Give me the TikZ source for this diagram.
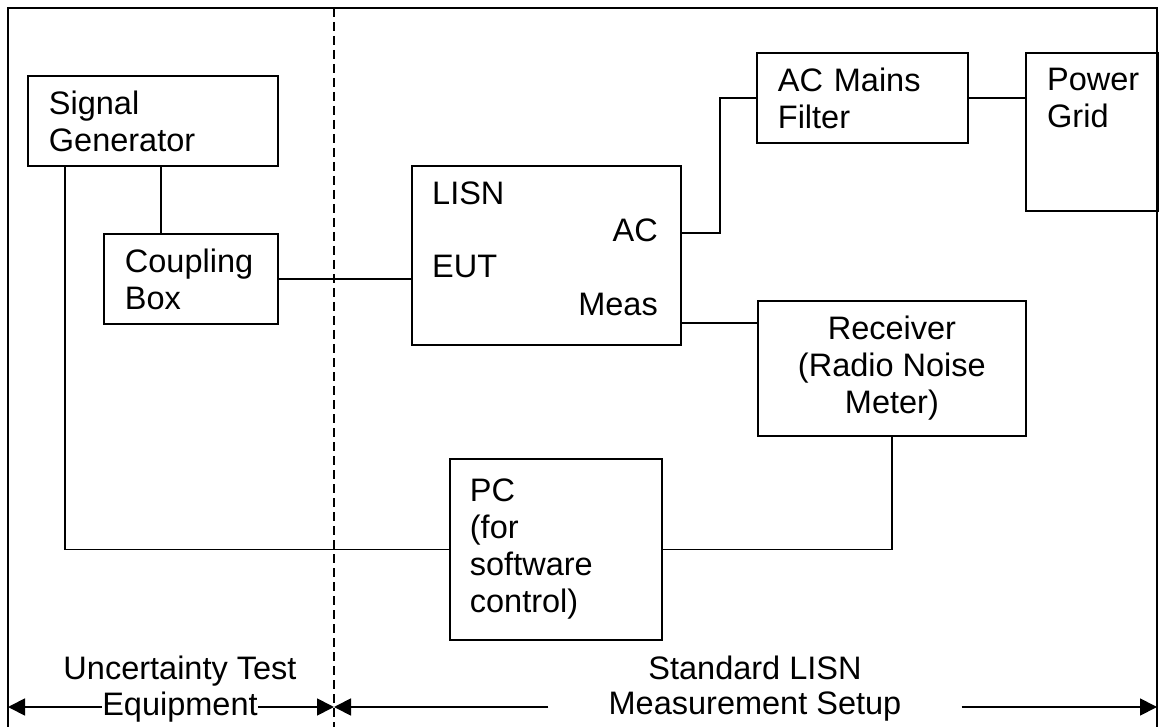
\documentclass[tikz,border=0pt]{standalone}
\usepackage{fontspec}
\setmainfont{Liberation Sans}
\usepackage{tikz}
\usetikzlibrary{arrows.meta,positioning}

\tikzset{
	blk/.style={draw, line width=1.8pt, inner sep=0pt, anchor=north west, align=left},
	wire/.style={line width=1.8pt},
	lbl/.style={inner sep=0pt},
	dimarrow/.style={line width=1.8pt, -{Triangle[length=17pt,width=17pt]}}
}

\begin{document}
\begin{tikzpicture}[x=1pt, y=-1pt, font=\fontsize{32.5}{37}\selectfont]
				\clip (0,0) rectangle (1162,727);

				% frame and divider
				\draw[wire] (8,8) rectangle (1157,760);
				\draw[wire, dash pattern=on 9pt off 5pt] (334,8) -- (334,760);

				% test equipment
				\node[blk, minimum width=250pt, minimum height=90pt, text width=208pt] (siggen) at (27,75) {Signal\\Generator};
				\node[blk, minimum width=174pt, minimum height=90pt, text width=132pt] (coupling) at (103,233) {Coupling\\Box};

				% LISN
				\node[blk, minimum width=269pt, minimum height=179pt] (lisn) at (411,165) {};
				\node[lbl, anchor=base west] (lisnlbl) at (432,205) {LISN};
				\node[lbl, anchor=base east] (actxt) at (658,242) {AC};
				\node[lbl, anchor=base west] (euttxt) at (432,278) {EUT};
				\node[lbl, anchor=base east] (meastxt) at (658,316) {Meas};
				\coordinate (acpt) at ([yshift=-68pt]lisn.north east);
				\coordinate (measpt) at ([yshift=-158pt]lisn.north east);

				% mains side
				\node[blk, minimum width=211pt, minimum height=90pt, text width=169pt] (filter) at (756,52) {AC Mains\\Filter};
				\node[blk, minimum width=132pt, minimum height=158pt] (grid) at (1025,52) {};
				\node[lbl, anchor=west, align=left] (gridtxt) at (1047,98) {Power\\Grid};

				% receiver and PC
				\node[blk, align=center, minimum width=268pt, minimum height=135pt] (rx) at (757,300) {Receiver\\(Radio Noise\\Meter)};
				\node[blk, minimum width=212pt, minimum height=181pt, text width=172pt] (pc) at (449,458) {PC\\(for\\software\\control)};

				% cables
				\draw[wire] ([xshift=38pt]siggen.south west) |- (pc.west);
				\draw[wire] ([xshift=134pt]siggen.south west) -- ([xshift=58pt]coupling.north west);
				\draw[wire] (coupling.east) -- (coupling.east -| lisn.west);
				\draw[wire] (acpt) -- ++(38,0) |- (filter.west);
				\draw[wire] (filter.east) -- (filter.east -| grid.west);
				\draw[wire] (measpt) -- (measpt -| rx.west);
				\draw[wire] (rx.south) |- (pc.east);

				% bottom labels
				\coordinate (bl) at (8,707);
				\coordinate (dm) at (334,707);
				\coordinate (br) at (1157,707);
				\node[lbl, anchor=base] (utest) at (180,679) {Uncertainty Test};
				\node[lbl] (uequip) at (180,707) {Equipment};
				\node[lbl, anchor=base] (stdlisn) at (755,679) {Standard LISN};
				\node[lbl, inner xsep=60pt] (msetup) at (755,707) {Measurement Setup};
				\draw[dimarrow] (uequip.west) -- (bl);
				\draw[dimarrow] (uequip.east) -- (dm);
				\draw[dimarrow] (msetup.west) -- (dm);
				\draw[dimarrow] (msetup.east) -- (br);
\end{tikzpicture}
\end{document}
